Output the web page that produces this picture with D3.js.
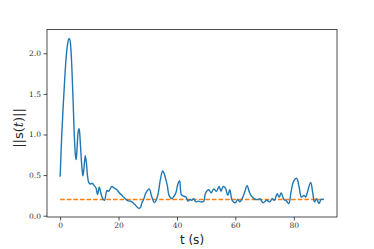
<!DOCTYPE html>
<meta charset="utf-8">
<head>
<style>
  body { margin: 0; background: #fff; }
  .tick text { font-family: "DejaVu Serif", "Liberation Serif", serif; font-size: 7.5px; fill: #333; }
  .tick line { stroke: #222; stroke-width: 0.8; }
</style>
</head>
<body>
  <script src="https://d3js.org/d3.v7.min.js"></script>
  <script>
    // signal norm ||s(t)||
    var times = [0, 0.5, 1.0, 1.5, 2.0, 2.5, 3.0, 3.3, 3.7, 4.1, 4.5, 4.9, 5.3, 5.5, 5.8, 6.2, 6.5, 6.9, 7.4, 7.8, 8.2, 8.6, 9.0, 9.4, 9.8,
      10.3, 10.9, 11.7, 12.3, 12.8, 13.4, 14.0, 14.6, 15.2, 16.0, 16.6, 17.7, 18.5, 19.4, 20.3, 21.2, 22.0, 22.9, 23.8, 24.6, 25.5, 26.3, 26.9, 27.5,
      28.0, 28.6, 29.2, 29.7, 30.5, 31.4, 32.3, 33.0, 33.6, 34.3, 35.1, 35.6, 36.1, 36.7, 37.4, 38.3, 39.0, 39.6, 40.4, 40.9, 41.5, 42.3, 43.1, 43.8,
      44.5, 45.1, 45.7, 46.5, 47.3, 48.0, 48.7, 49.2, 49.7, 50.4, 50.9, 51.7, 52.6, 53.5, 54.4, 55.1, 55.8, 56.6, 57.4, 58.1, 58.9, 60.0,
      60.8, 61.5, 62.3, 63.1, 64.0, 64.9, 65.8, 66.9, 67.8, 68.4, 69.5, 70.7, 71.8, 72.6, 73.4, 74.3, 75.0, 75.7, 76.6, 77.5, 78.3,
      79.1, 80.0, 81.0, 81.8, 82.6, 83.5, 84.1, 84.6, 85.2, 85.8, 86.5, 87.1, 87.8, 88.6, 89.4, 90.3];
    var norms = [0.48, 0.95, 1.32, 1.64, 1.92, 2.10, 2.18, 2.17, 2.04, 1.74, 1.35, 0.95, 0.72, 0.69, 0.84, 1.04, 1.07, 0.90, 0.62, 0.49, 0.60, 0.74, 0.65, 0.48, 0.41,
      0.39, 0.40, 0.37, 0.34, 0.26, 0.35, 0.27, 0.21, 0.19, 0.31, 0.30, 0.36, 0.34, 0.32, 0.28, 0.25, 0.22, 0.19, 0.18, 0.17, 0.14, 0.11, 0.09, 0.10,
      0.16, 0.20, 0.27, 0.30, 0.33, 0.23, 0.16, 0.20, 0.28, 0.44, 0.55, 0.52, 0.46, 0.37, 0.24, 0.21, 0.24, 0.28, 0.40, 0.43, 0.26, 0.24, 0.23, 0.18,
      0.20, 0.19, 0.21, 0.17, 0.18, 0.17, 0.17, 0.18, 0.27, 0.31, 0.32, 0.28, 0.33, 0.30, 0.36, 0.30, 0.36, 0.34, 0.25, 0.32, 0.19, 0.16,
      0.20, 0.17, 0.21, 0.28, 0.37, 0.28, 0.23, 0.20, 0.20, 0.21, 0.16, 0.19, 0.17, 0.21, 0.19, 0.27, 0.23, 0.28, 0.20, 0.18, 0.15,
      0.30, 0.43, 0.46, 0.36, 0.23, 0.25, 0.23, 0.28, 0.36, 0.41, 0.28, 0.17, 0.21, 0.15, 0.20, 0.20];
    var threshold = 0.2;
    var xTicks = [0, 20, 40, 60, 80];
    var yTicks = [0.0, 0.5, 1.0, 1.5, 2.0];

    var width = 374, height = 249;
    var margin = { top: 29.5, right: 37, bottom: 32, left: 47 };

    var x = d3.scaleLinear().domain([-4.5, 94.8]).range([margin.left, width - margin.right]);
    var y = d3.scaleLinear().domain([-0.016, 2.293]).range([height - margin.bottom, margin.top]);

    var svg = d3.select("body").append("svg")
      .attr("width", width)
      .attr("height", height);

    var data = times.map(function (t, i) { return { t: t, v: norms[i] }; });

    var line = d3.line()
      .x(function (d) { return x(d.t); })
      .y(function (d) { return y(d.v); })
      .curve(d3.curveCatmullRom);

    // threshold line
    svg.append("line")
      .attr("x1", x(0)).attr("x2", x(times[times.length - 1]))
      .attr("y1", y(threshold)).attr("y2", y(threshold))
      .attr("stroke", "#ff7f0e")
      .attr("stroke-width", 1.4)
      .attr("stroke-dasharray", "4.6,2");

    svg.append("path")
      .datum(data)
      .attr("d", line)
      .attr("fill", "none")
      .attr("stroke", "#1f77b4")
      .attr("stroke-width", 1.4)
      .attr("stroke-linejoin", "round");

    var xAxis = svg.append("g")
      .attr("transform", "translate(0," + (height - margin.bottom) + ")")
      .call(d3.axisBottom(x).tickValues(xTicks).tickSize(3.5).tickPadding(2).tickFormat(d3.format("d")));
    var yAxis = svg.append("g")
      .attr("transform", "translate(" + margin.left + ",0)")
      .call(d3.axisLeft(y).tickValues(yTicks).tickSize(3.5).tickPadding(2.5).tickFormat(d3.format(".1f")));
    xAxis.select(".domain").remove();
    yAxis.select(".domain").remove();

    // frame
    svg.append("rect")
      .attr("x", margin.left).attr("y", margin.top)
      .attr("width", width - margin.left - margin.right)
      .attr("height", height - margin.top - margin.bottom)
      .attr("fill", "none")
      .attr("stroke", "#222")
      .attr("stroke-width", 0.8);

    svg.append("text")
      .attr("x", (margin.left + width - margin.right) / 2)
      .attr("y", 244)
      .attr("text-anchor", "middle")
      .style("font-family", "DejaVu Sans, sans-serif")
      .style("font-size", "12px")
      .style("fill", "#222")
      .text("t (s)");

    var ylab = svg.append("text")
      .attr("transform", "translate(23," + 128 + ") rotate(-90)")
      .attr("text-anchor", "middle")
      .style("font-family", "DejaVu Serif, serif")
      .style("font-size", "13px")
      .style("fill", "#222");
    ylab.append("tspan").text("||");
    ylab.append("tspan").style("font-family", "DejaVu Sans, sans-serif").text("s");
    ylab.append("tspan").text("(");
    ylab.append("tspan").style("font-style", "italic").text("t");
    ylab.append("tspan").text(")||");
  </script>
</body>
</html>
